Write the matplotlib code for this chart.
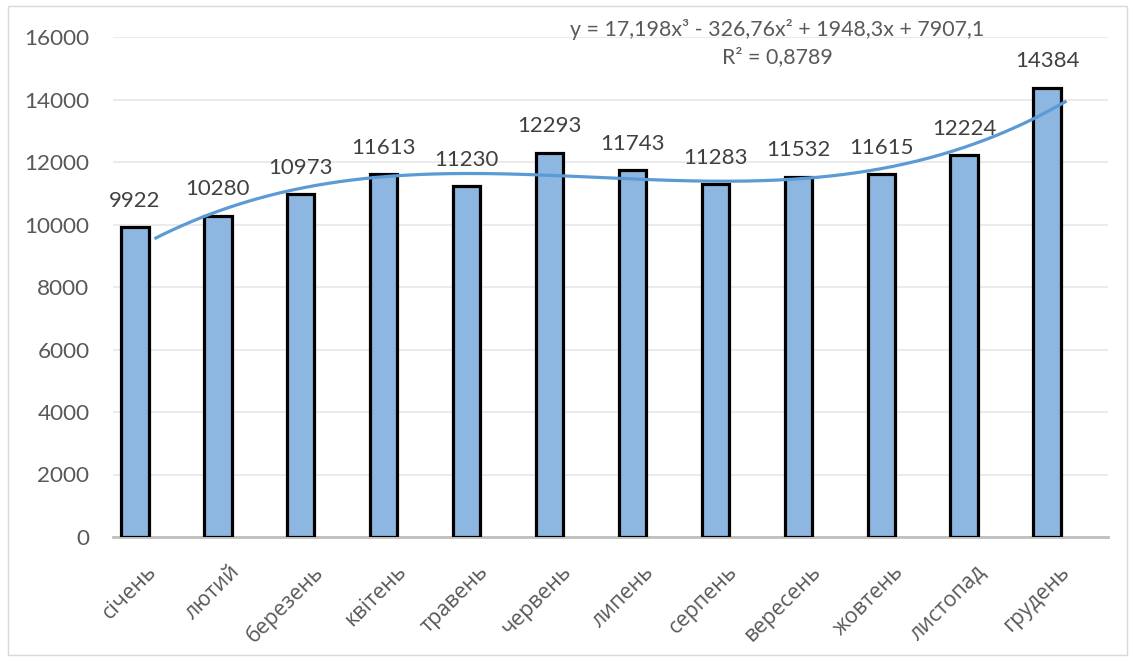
import numpy as np
import matplotlib
matplotlib.use("Agg")
import matplotlib.pyplot as plt
from matplotlib.patches import Rectangle
from matplotlib.transforms import ScaledTranslation

plt.rcParams['font.family'] = ['Lato', 'Open Sans', 'DejaVu Sans']

months = ["січень", "лютий", "березень", "квітень", "травень", "червень",
          "липень", "серпень", "вересень", "жовтень", "листопад", "грудень"]
values = [9922, 10280, 10973, 11613, 11230, 12293,
          11743, 11283, 11532, 11615, 12224, 14384]
# cubic trendline coefficients (x = 1..12), highest power first
trend_coef = [17.198, -326.76, 1948.3, 7907.1]
trend_eq = "y = 17,198x³ - 326,76x² + 1948,3x + 7907,1"
trend_r2 = "R² = 0,8789"
yticks = list(range(0, 16001, 2000))

text_color = "#595959"
bar_color = "#8DB6E1"
line_color = "#5B9BD5"

W, H = 1134, 661
fig = plt.figure(figsize=(W / 100, H / 100), dpi=100)
fig.patch.set_facecolor("white")
fig.patches.append(Rectangle((8 / W, 1 - 655 / H), (1127 - 8) / W, (655 - 6) / H,
                             transform=fig.transFigure, fill=False,
                             edgecolor="#D9D9D9", linewidth=1.0))

ax = fig.add_axes([113 / W, (H - 537) / H, (1108 - 113) / W, (537 - 37) / H])
x = np.arange(len(months))
bar_off = -0.235
bar_w = 0.33
ax.bar(x + bar_off, values, width=bar_w, color=bar_color,
       edgecolor="black", linewidth=2.3, zorder=3)

for xi, v in zip(x, values):
    ax.annotate(f"{v}", (xi + bar_off, v), xytext=(0, 19), textcoords="offset points",
                ha="center", va="center", fontsize=16, color="#404040", zorder=5)

xs = np.linspace(1, 12, 300)
ax.plot(xs - 1, np.polyval(trend_coef, xs), color=line_color, linewidth=2.3,
        zorder=4, solid_capstyle="butt")

ax.set_xlim(-0.5, len(months) - 0.5)
ax.set_ylim(0, 16000)
ax.set_yticks(yticks)
ax.set_yticklabels([str(t) for t in yticks])
ax.set_xticks(x)
ax.set_xticklabels(months, rotation=45, ha="right", rotation_mode="anchor",
                   family=['Open Sans', 'DejaVu Sans'])
ax.tick_params(axis="x", length=0, pad=21, labelsize=15.5, labelcolor=text_color)
ax.tick_params(axis="y", length=0, pad=17, labelsize=16.2, labelcolor=text_color)
shift = ScaledTranslation(-8 / 100, 5 / 100, fig.dpi_scale_trans)
for lbl in ax.get_xticklabels():
    lbl.set_transform(lbl.get_transform() + shift)

ax.grid(axis="y", color="#E8E8E8", linewidth=1.2, zorder=0)
ax.set_axisbelow(True)
for s in ["top", "right", "left"]:
    ax.spines[s].set_visible(False)
ax.spines["bottom"].set_color("#BFBFBF")
ax.spines["bottom"].set_linewidth(2)
ax.spines["bottom"].set_zorder(2)

fig.text(777 / W, 1 - 29 / H, trend_eq, ha="center", va="center",
         fontsize=15.4, color=text_color)
fig.text(777 / W, 1 - 57 / H, trend_r2, ha="center", va="center",
         fontsize=15.4, color=text_color)

fig.savefig("out.png", dpi=100, facecolor="white")
